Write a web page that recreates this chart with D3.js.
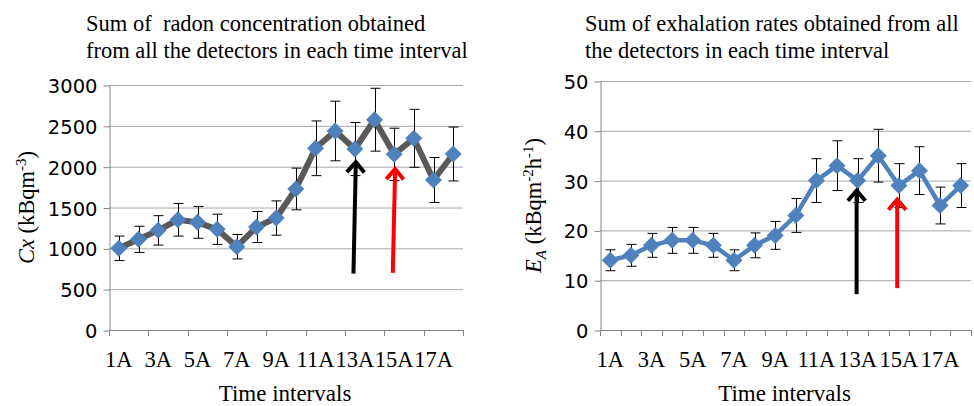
<!DOCTYPE html>
<html>
<head>
<meta charset="utf-8">
<script src="https://cdn.jsdelivr.net/npm/d3@7/dist/d3.min.js"></script>
<style>
  body { margin: 0; background: #fff; }
  svg { display: block; }
  .grid line { stroke: #a6a6a6; stroke-width: 1; }
  .axis path, .axis line { stroke: #868686; stroke-width: 1; }
</style>
</head>
<body>
<svg id="chart" width="974" height="406"></svg>
<script>
var SERIF = '"Liberation Serif", "Times New Roman", "DejaVu Serif", serif';
var SANS = '"DejaVu Sans", sans-serif';

// Time interval categories (1A .. 18A)
var categories = d3.range(1, 19).map(function (i) { return i + 'A'; });
var xTickLabels = ['1A', '3A', '5A', '7A', '9A', '11A', '13A', '15A', '17A'];

// Left: sum of radon concentration Cx (kBq m^-3) and error
var radon = [1000, 1110, 1220, 1350, 1318, 1233, 1020, 1261, 1371, 1727, 2225, 2437, 2216, 2575, 2151, 2347, 1837, 2155];
var radonErr = [150, 160, 180, 200, 195, 185, 150, 190, 210, 255, 335, 365, 325, 385, 320, 355, 275, 330];
var radonTicks = [0, 500, 1000, 1500, 2000, 2500, 3000];

// Right: sum of exhalation rates E_A (kBq m^-2 h^-1) and error
var exhal = [14, 15, 17, 18, 18, 17, 14, 17, 19, 23, 30, 33, 30, 35, 29, 32, 25, 29];
var exhalErr = [2.1, 2.2, 2.4, 2.6, 2.6, 2.4, 2.1, 2.5, 2.8, 3.4, 4.4, 5.0, 4.4, 5.3, 4.4, 4.8, 3.7, 4.4];
var exhalTicks = [0, 10, 20, 30, 40, 50];

// Annotation arrows: [category position bottom, value bottom, category position tip, value tip]
var radonArrows = [
  { color: '#000', pos: [12.93, 690, 13.05, 2080] },
  { color: '#ff0000', pos: [14.93, 700, 15.05, 1995] }
];
var exhalArrows = [
  { color: '#000', pos: [12.95, 7.2, 12.95, 28.4] },
  { color: '#ff0000', pos: [14.92, 8.4, 14.92, 26.6] }
];

var svg = d3.select('#chart');

function drawPanel(o) {
  var g = svg.append('g');
  var x = d3.scaleBand().domain(categories).range([o.left, o.right]);
  var y = d3.scaleLinear().domain([0, o.ticks[o.ticks.length - 1]]).range([o.bottom, o.top]);
  var xc = function (i) { return x(categories[i]) + x.bandwidth() / 2; };
  var xpos = function (p) { return o.left + (p - 0.5) * x.bandwidth(); };

  // grid
  g.append('g').attr('class', 'grid').selectAll('line')
    .data(o.ticks.filter(function (t) { return t > 0; })).join('line')
    .attr('x1', o.left).attr('x2', o.right)
    .attr('y1', function (d) { return y(d) + 0.5; }).attr('y2', function (d) { return y(d) + 0.5; });

  // y axis
  var ya = g.append('g').attr('class', 'axis')
    .attr('transform', 'translate(' + (o.left + 0.5) + ',0.5)')
    .call(d3.axisLeft(y).tickValues(o.ticks).tickFormat(d3.format('d'))
      .tickSize(6).tickPadding(6).tickSizeOuter(0));
  ya.attr('font-family', SANS).attr('font-size', 19.5);
  ya.selectAll('text').attr('dy', '0.36em').attr('fill', '#000');

  // x axis: tick marks at category boundaries
  var bounds = d3.range(0, categories.length + 1, o.tickEvery).map(function (i) { return o.left + i * x.bandwidth(); });
  var xa = g.append('g').attr('class', 'axis');
  xa.append('line').attr('x1', o.left).attr('x2', o.right).attr('y1', o.bottom + 0.5).attr('y2', o.bottom + 0.5);
  xa.selectAll('line.t').data(bounds).join('line').attr('class', 't')
    .attr('x1', function (d) { return Math.round(d) + 0.5; }).attr('x2', function (d) { return Math.round(d) + 0.5; })
    .attr('y1', o.bottom).attr('y2', o.bottom + 6);
  g.append('g').attr('font-family', SERIF).attr('font-size', 22.5)
    .selectAll('text').data(xTickLabels).join('text')
    .attr('x', function (d) { return x(d) + x.bandwidth() / 2; })
    .attr('y', o.bottom + 37).attr('text-anchor', 'middle').text(function (d) { return d; });

  // line
  var line = d3.line().x(function (d, i) { return xc(i); }).y(function (d) { return y(d); });
  g.append('path').datum(o.values).attr('d', line)
    .attr('fill', 'none').attr('stroke', o.lineColor).attr('stroke-width', o.lineWidth)
    .attr('stroke-linejoin', 'round');

  // error bars
  var eb = g.append('g').attr('stroke', '#000').attr('stroke-width', 1);
  o.values.forEach(function (v, i) {
    var cx = Math.round(xc(i)) + 0.5, e = o.errors[i];
    eb.append('line').attr('x1', cx).attr('x2', cx).attr('y1', y(v + e)).attr('y2', y(v - e));
    eb.append('line').attr('x1', cx - 5).attr('x2', cx + 5).attr('y1', y(v + e)).attr('y2', y(v + e));
    eb.append('line').attr('x1', cx - 5).attr('x2', cx + 5).attr('y1', y(v - e)).attr('y2', y(v - e));
  });

  // diamond markers
  g.append('g').selectAll('path').data(o.values).join('path')
    .attr('transform', function (d, i) { return 'translate(' + xc(i) + ',' + y(d) + ')'; })
    .attr('d', 'M0,-8.5L8.5,0L0,8.5L-8.5,0Z').attr('fill', '#4f81bd');

  // arrows
  o.arrows.forEach(function (a) {
    var x0 = xpos(a.pos[0]), y0 = y(a.pos[1]), x1 = xpos(a.pos[2]), y1 = y(a.pos[3]);
    var ang = Math.atan2(y1 - y0, x1 - x0), L = 15, sp = 0.62;
    var ag = g.append('g').attr('stroke', a.color).attr('stroke-width', 4).attr('fill', 'none')
      .attr('stroke-linecap', 'butt');
    ag.append('line').attr('x1', x0).attr('y1', y0).attr('x2', x1).attr('y2', y1 + 2);
    ag.append('path').attr('stroke-linejoin', 'miter')
      .attr('d', 'M' + (x1 - L * Math.cos(ang - sp)) + ',' + (y1 - L * Math.sin(ang - sp)) +
        'L' + x1 + ',' + (y1 + 2) +
        'L' + (x1 - L * Math.cos(ang + sp)) + ',' + (y1 - L * Math.sin(ang + sp)));
  });

  // title
  var t = g.append('text').attr('font-family', SERIF).attr('font-size', 22.5)
    .attr('xml:space', 'preserve').style('white-space', 'pre');
  o.title.forEach(function (s, i) {
    t.append('tspan').attr('x', o.titleX).attr('y', 31 + i * 26.5).text(s);
  });

  // axis titles
  g.append('text').attr('font-family', SERIF).attr('font-size', 23)
    .attr('x', (o.left + o.right) / 2 - 1).attr('y', 401)
    .attr('text-anchor', 'middle').text('Time intervals');
  var yl = g.append('text').attr('font-family', SERIF).attr('font-size', 22.5).attr('text-anchor', 'middle')
    .attr('transform', 'translate(' + o.ylabelX + ',' + ((o.top + o.bottom) / 2) + ') rotate(-90)');
  o.ylabel(yl);
}

drawPanel({
  left: 109, right: 463, top: 85, bottom: 330,
  ticks: radonTicks, values: radon, errors: radonErr, tickEvery: 2,
  lineColor: '#595959', lineWidth: 6, arrows: radonArrows,
  title: ['Sum of  radon concentration obtained', 'from all the detectors in each time interval'],
  titleX: 86, ylabelX: 34,
  ylabel: function (t) {
    t.append('tspan').attr('font-style', 'italic').text('Cx');
    t.append('tspan').text(' (kBqm');
    t.append('tspan').attr('font-size', '15px').attr('dy', '-8').text('-3');
    t.append('tspan').attr('dy', '8').text(')');
  }
});

drawPanel({
  left: 600, right: 971, top: 81, bottom: 330,
  ticks: exhalTicks, values: exhal, errors: exhalErr, tickEvery: 1,
  lineColor: '#4f81bd', lineWidth: 4.5, arrows: exhalArrows,
  title: ['Sum of exhalation rates obtained from all', 'the detectors in each time interval'],
  titleX: 585, ylabelX: 541,
  ylabel: function (t) {
    t.append('tspan').attr('font-style', 'italic').text('E');
    t.append('tspan').attr('font-style', 'italic').attr('font-size', '15px').attr('dy', '5').text('A');
    t.append('tspan').attr('dy', '-5').text(' (kBqm');
    t.append('tspan').attr('font-size', '15px').attr('dy', '-8').text('-2');
    t.append('tspan').attr('dy', '8').text('h');
    t.append('tspan').attr('font-size', '15px').attr('dy', '-8').text('-1');
    t.append('tspan').attr('dy', '8').text(')');
  }
});
</script>
</body>
</html>
